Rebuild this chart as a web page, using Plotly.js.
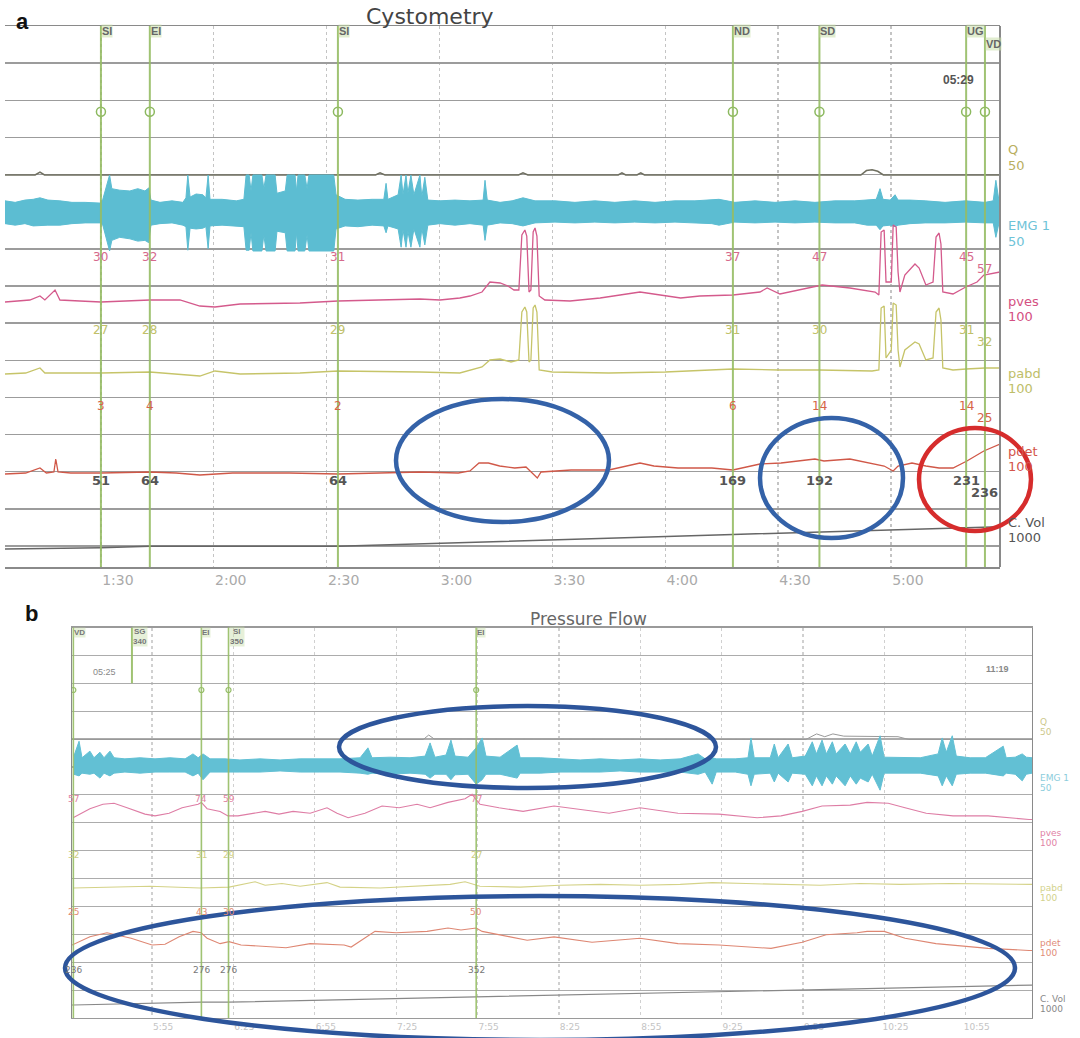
<!DOCTYPE html>
<html><head><meta charset="utf-8">
<script src="https://cdn.plot.ly/plotly-3.0.1.min.js"></script>
<style>html,body{margin:0;padding:0;background:#fff}#chart{width:1080px;height:1038px}</style>
</head><body><div id="chart"></div>
<script>
// ================= DATA =================
// ---- Panel a: Cystometry (time in seconds) ----
const topTickVals = [90,120,150,180,210,240,270,300];
const topTickText = ['1:30','2:00','2:30','3:00','3:30','4:00','4:30','5:00'];

const topEvents   = ['SI','EI','SI','ND','SD','UG','VD'];
const topEventT   = [90,103,153,258,281,320,325];
const topEvPves   = [30,32,31,37,47,45,57];
const topEvPabd   = [27,28,29,31,30,31,32];
const topEvPdet   = [3,4,2,6,14,14,25];
const topEvCVol   = [51,64,64,169,192,231,236];

const emgTopT = [64.5,67.2,69.8,72.0,73.8,75.9,79.1,82.3,85.8,89.8,
  90.5,91.3,92.3,92.9,95.0,97.7,99.8,101.7,102.7,103.3,
  105.7,108.9,111.8,112.6,113.1,113.7,115.3,117.1,117.9,118.5,
  119.0,122.2,126.0,128.0,128.6,129.4,129.9,130.4,132.8,133.3,
  133.9,136.3,136.8,139.0,139.5,141.6,142.0,142.4,144.2,144.8,
  145.3,151.9,152.5,154.9,158.3,162.1,165.2,165.8,166.3,169.0,
  169.8,170.3,171.1,171.6,172.4,173.2,174.8,175.3,176.1,176.9,
  180.1,184.1,188.1,191.6,192.1,192.7,196.1,199.3,202.2,205.4,
  210.7,216.0,221.3,226.6,231.9,237.3,242.6,247.9,252.4,254.3,
  258.5,263.9,269.2,274.5,279.8,285.1,290.4,293.7,296.1,297.1,
  297.9,299.8,301.1,301.9,305.1,309.1,314.4,319.8,325.0,327.2,
  327.9,328.7,329.0];
const emgTopUp = [16,14,17,18,20,17,16,14,14,13,
  18,32,50,32,30,29,32,29,33,17,
  14,16,14,20,50,21,25,24,20,50,
  18,18,16,18,50,50,29,50,50,32,
  50,50,26,29,50,50,29,50,50,32,
  50,50,24,18,17,18,18,39,18,24,
  50,24,50,26,50,24,50,21,47,17,
  16,17,16,17,43,17,14,16,20,16,
  16,14,16,14,16,14,16,16,18,18,
  14,16,14,16,14,16,16,17,18,32,
  18,17,24,17,17,16,14,16,14,16,
  43,17,16];
const emgTopDown = [-14,-16,-14,-17,-17,-16,-16,-14,-13,-13,
  -16,-33,-50,-36,-32,-34,-37,-36,-39,-16,
  -14,-13,-16,-18,-49,-20,-21,-20,-18,-47,
  -17,-16,-17,-18,-49,-49,-26,-50,-50,-29,
  -50,-50,-24,-26,-50,-50,-26,-50,-50,-29,
  -50,-50,-21,-17,-18,-16,-17,-26,-17,-21,
  -45,-22,-45,-24,-45,-21,-45,-20,-42,-16,
  -14,-16,-14,-16,-36,-16,-13,-14,-17,-13,
  -12,-13,-12,-13,-12,-13,-12,-13,-14,-16,
  -12,-13,-12,-13,-12,-13,-13,-16,-16,-22,
  -17,-16,-18,-16,-14,-13,-13,-12,-13,-13,
  -32,-14,-13];

const pvesTopT = [64.5,71.1,73.8,75.1,77.8,79.1,84.4,90,103,111,
  116.3,120.3,127,142.9,153,164.2,174.8,180.1,185.4,188.1,
  191.3,193.4,196.1,198.2,199.8,201.1,201.9,202.7,203.2,203.8,
  204.3,204.9,205.4,205.9,206.5,208,214.7,222.7,233.3,244.1,
  249.2,258,265.2,267.1,270.5,281.7,289.1,295.8,296.8,297.4,
  298.2,298.7,300.1,300.6,301.4,301.9,302.4,303.7,306.4,307.5,
  309.3,311.2,312.0,312.8,313.3,313.8,316.5,319.9,322.9,324.7,
  329];
const pvesTopV = [30,32,36,32,42,32,31,30,32,32,
  26,25,28,29,31,32,33,32,34,36,
  40,50,49,46,42,42,97,102,96,40,
  42,100,104,96,36,32,31,34,40,34,
  36,37,40,44,38,47,44,40,37,100,
  102,50,50,107,105,60,40,57,68,64,
  47,50,95,99,88,40,38,45,50,57,
  60];

const pabdTopT = [64.5,70,73.8,75.1,84.4,90,103,116.3,120.3,127,
  142.9,153,174.8,185.4,191.3,193.4,196.1,199,201.1,201.9,
  202.7,203.2,203.8,204.3,204.9,205.4,205.9,206.5,210,225,
  240,258,270,281,295,296.8,297.4,298.2,298.7,300.1,
  300.6,301.4,301.9,302.4,303.7,306.4,307.5,309.3,311.2,312.0,
  312.8,313.3,313.8,316.5,320,325,329];
const pabdTopV = [26,27,32,27,27,27,28,24,29,26,
  27,29,28,27,33,40,41,38,40,88,
  93,88,38,40,92,95,88,30,28,27,
  28,31,30,30,29,30,92,94,42,50,
  97,95,50,33,50,58,56,40,42,88,
  92,80,32,30,31,32,32];

const pdetTopT = [64.5,70,73.8,75.5,77.5,78,78.6,82,90,103,
  110,116.3,125,140,153,165,175,185,188.1,190.5,
  193,196,200,203,205.4,206,207,215,225,233.3,
  237,243.4,252.4,258,265.2,270.8,279.8,282.2,289.1,294.4,
  298.2,300.6,301.9,305.6,309.3,312.8,316.5,320.2,324.7,329];
const pdetTopV = [2,3,8,3,4,17,4,3,3,4,
  3,1,3,3,2,3,4,3,5,13,
  13,10,8,9,1,-2,4,6,6,13,
  10,8,8,6,12,13,17,15,17,13,
  10,5,10,13,10,8,8,15,25,32];

const qTopT = [64.5,72.5,73.8,75,163,164.2,165.5,201,202.2,203.5,227.5,228.5,229.5,232.5,233.5,234.5,292,293.5,295,296.5,298,329];
const qTopV = [0,0,4,0,0,3,0,0,3,0,0,3,0,0,3,0,0,6,7,5,0,0];

const cvolTopT = [64.5,90,103,153,258,281,320,325,329];
const cvolTopV = [40,51,64,64,169,192,231,236,238];

// ---- Panel b: Pressure Flow ----
const botTickVals = [355,385,415,445,475,505,535,565,595,625,655];
const botTickText = ['5:55','6:25','6:55','7:25','7:55','8:25','8:55','9:25','9:55','10:25','10:55'];

const botEvents   = ['VD','SG<br>340','EI','SI<br>350','EI'];
const botEventT   = [326,347.6,373.2,383.2,474.5];
const botEvPves   = ['57','','74','59','77'];
const botEvPabd   = ['32','','31','29','27'];
const botEvPdet   = ['25','','43','30','50'];
const botEvCVol   = ['236','','276','276','352'];

const emgBotT = [326.2,328.1,329.2,332.1,333.6,335.8,337.3,339.5,341.0,345.0,
  350.6,356.1,361.6,367.2,370.1,372.0,373.8,376.4,381.9,387.4,
  394.8,402.2,409.6,416.9,424.3,431.7,434.6,436.1,442.7,450.1,
  455.7,457.5,459.3,463.4,465.2,466.7,471.5,474.5,476.7,478.1,
  483.3,489.6,490.7,498.1,505.4,512.8,520.2,527.5,534.9,542.3,
  549.7,556.3,558.9,561.5,563.0,570.0,574.7,575.8,577.0,582.9,
  584.4,585.8,589.5,591.0,595.8,598.4,599.9,602.0,603.6,605.8,
  607.2,610.5,612.4,614.6,616.1,619.0,620.5,623.4,624.9,630.8,
  638.2,644.8,646.3,647.8,650.0,651.5,656.6,662.2,668.8,669.9,
  673.2,675.8,677.3,679.4];
const emgBotUp = [18,45,15,27,15,25,15,27,15,13,
  15,13,15,13,22,15,22,13,13,11,
  13,11,13,13,13,15,33,15,16,15,
  18,42,16,20,47,18,16,33,51,18,
  16,38,15,15,13,11,13,11,13,11,
  13,22,13,15,13,13,15,51,15,15,
  40,15,40,15,18,44,22,47,22,44,
  22,40,22,44,25,40,18,55,16,15,
  15,22,51,25,55,18,15,15,36,15,
  16,22,16,15];
const emgBotDown = [-15,-18,-13,-15,-13,-22,-13,-18,-13,-11,
  -13,-11,-11,-11,-18,-13,-25,-11,-11,-11,
  -11,-9,-11,-11,-11,-13,-15,-13,-15,-13,
  -15,-22,-15,-15,-25,-16,-15,-33,-25,-15,
  -15,-22,-13,-13,-11,-11,-11,-9,-11,-11,
  -11,-15,-11,-33,-11,-11,-15,-36,-15,-13,
  -29,-13,-29,-13,-15,-36,-18,-36,-18,-33,
  -18,-36,-18,-33,-22,-29,-15,-44,-13,-13,
  -13,-18,-36,-18,-36,-15,-13,-13,-18,-13,
  -15,-27,-15,-13];

const pvesBotT = [325.9,332.1,336.9,341.0,345.8,352.4,356.1,361.3,366.1,372.0,
  373.2,375.3,380.1,383.0,386.7,391.5,396.7,401.8,407.0,413.3,
  419.5,423.2,427.3,433.5,439.8,446.1,452.7,457.5,464.1,470.4,
  473.0,474.5,475.9,482.9,491.8,503.2,510.6,523.5,534.9,548.9,
  564.0,578.1,586.9,594.7,602.0,612.4,618.6,626.4,632.6,640.4,
  650.3,663.2,678.3,679.4];
const pvesBotV = [57,67,72,73,68,61,59,62,68,72,
  74,67,64,59,59,61,64,61,64,62,
  68,62,57,62,70,68,72,68,74,78,
  83,77,72,68,64,70,67,62,68,62,
  61,57,59,64,70,71,74,73,68,62,
  59,59,55,55];

const pabdBotT = [325.9,343.2,354.3,372.7,383.4,393.0,396.7,402.9,409.6,419.5,
  424.3,439.1,453.8,464.9,470.4,475.9,490.7,505.4,520.2,534.9,
  549.7,561.5,574.0,586.5,601.3,616.0,630.8,649.2,667.6,679.4];
const pabdBotV = [30,31,32,30,31,37,33,35,32,36,
  31,30,32,34,37,32,31,33,34,33,
  34,36,35,34,33,35,34,35,34,34];

const pdetBotT = [325.5,332.1,338.4,347.3,355.0,359.8,365.0,370.1,373.1,375.3,
  380.1,383.4,387.8,400.3,404.4,413.3,425.8,428.4,437.2,445.0,
  456.4,464.1,468.9,474.5,476.7,487.0,493.3,503.2,517.2,534.9,
  548.9,564.0,583.2,594.7,603.5,614.9,618.6,624.9,632.6,644.0,
  663.2,678.3,679.4];
const pdetBotV = [25,37,43,35,25,26,37,45,43,35,
  27,30,25,22,21,27,25,22,45,43,
  45,50,47,50,45,37,32,37,29,35,
  27,25,20,29,40,43,45,45,35,27,
  20,17,17];

const qBotT = [325.5,455,457,459,596,600,603,606,610,620,630,634,679.4];
const qBotV = [0,0,8,1,0,10,5,10,6,6,5,0,0];

const cvolBotT = [325.5,326,373.2,383.2,474.5,679.4];
const cvolBotV = [236,236,276,276,352,520];

// channel labels
const chanNames  = ['Q','EMG 1','pves','pabd','pdet','C. Vol'];
const chanScales = ['50','50','100','100','100','1000'];

// ================= LAYOUT HELPERS =================
const W = 1080, H = 1038;
const F = 'Liberation Sans, Arial, sans-serif';
const FD = 'DejaVu Sans, sans-serif';
const px = x => x / W, py = y => 1 - y / H;
function rng(zero, s, T, B) { return [(zero - B) / s, (zero - T) / s]; }

const TT = 26, TB = 567, BT = 627.5, BB = 1018;
const colTop = {q:'#6f6f60', emg:'#5cbdd2', pves:'rgb(212,90,140)', pabd:'rgb(198,196,105)', pdet:'rgb(208,88,72)', cvol:'#666'};
const colBot = {q:'#999', emg:'#62c0d4', pves:'rgb(222,125,165)', pabd:'rgb(212,210,135)', pdet:'rgb(222,135,115)', cvol:'#888'};
const evGreen = 'rgba(150,188,100,0.9)';

function band(t, up, dn) {
  return { x: t.concat(t.slice().reverse()), y: up.concat(dn.slice().reverse()) };
}
const bt = band(emgTopT, emgTopUp, emgTopDown);
const bb = band(emgBotT, emgBotUp, emgBotDown);

const traces = [
  {x: bt.x, y: bt.y, xaxis:'x', yaxis:'y3', mode:'lines', fill:'toself', fillcolor:colTop.emg, line:{color:colTop.emg, width:1}},
  {x: qTopT, y: qTopV, xaxis:'x', yaxis:'y2', mode:'lines', line:{color:colTop.q, width:1.5}},
  {x: pvesTopT, y: pvesTopV, xaxis:'x', yaxis:'y4', mode:'lines', line:{color:colTop.pves, width:1.3}},
  {x: pabdTopT, y: pabdTopV, xaxis:'x', yaxis:'y5', mode:'lines', line:{color:colTop.pabd, width:1.3}},
  {x: pdetTopT, y: pdetTopV, xaxis:'x', yaxis:'y6', mode:'lines', line:{color:colTop.pdet, width:1.3}},
  {x: cvolTopT, y: cvolTopV, xaxis:'x', yaxis:'y7', mode:'lines', line:{color:colTop.cvol, width:1.5}},
  {x: topEventT, y: topEventT.map(() => 11.69), xaxis:'x', yaxis:'y', mode:'markers',
   marker:{symbol:'circle-open', size:9, color:'rgb(140,185,95)', line:{width:1.5}}},

  {x: bb.x, y: bb.y, xaxis:'x2', yaxis:'y10', mode:'lines', fill:'toself', fillcolor:colBot.emg, line:{color:colBot.emg, width:1}},
  {x: qBotT, y: qBotV, xaxis:'x2', yaxis:'y9', mode:'lines', line:{color:colBot.q, width:1}},
  {x: pvesBotT, y: pvesBotV, xaxis:'x2', yaxis:'y11', mode:'lines', line:{color:colBot.pves, width:1.1}},
  {x: pabdBotT, y: pabdBotV, xaxis:'x2', yaxis:'y12', mode:'lines', line:{color:colBot.pabd, width:1.1}},
  {x: pdetBotT, y: pdetBotV, xaxis:'x2', yaxis:'y13', mode:'lines', line:{color:colBot.pdet, width:1.1}},
  {x: cvolBotT, y: cvolBotV, xaxis:'x2', yaxis:'y14', mode:'lines', line:{color:colBot.cvol, width:1.2}},
  {x: botEventT.filter((t,i)=>i!==1), y: [11.76,11.76,11.76,11.76], xaxis:'x2', yaxis:'y8', mode:'markers',
   marker:{symbol:'circle-open', size:5, color:'rgb(150,190,105)', line:{width:1.2}}}
];

function chan(base, xa, zero, s, T, B) {
  return {overlaying: base, anchor: xa, range: rng(zero, s, T, B), autorange:false, visible:false, fixedrange:true};
}

const layout = {
  width: W, height: H, autosize:false,
  margin: {l:0, r:0, t:0, b:0, pad:0},
  paper_bgcolor:'#fff', plot_bgcolor:'#fff',
  showlegend:false,
  font:{family:F, color:'#555'},
  xaxis: {domain:[px(5), px(1000)], range:[64.5, 329], autorange:false, anchor:'y',
    tickmode:'array', tickvals: topTickVals, ticktext: topTickText,
    showgrid:true, gridcolor:'#c4c4c4', griddash:'dot', gridwidth:1.3, zeroline:false,
    ticks:'', ticklabelshift:17, tickfont:{family:FD, size:14, color:'#aaa'},
    showline:true, mirror:true, linecolor:'#8a8a8a', linewidth:1.5},
  yaxis: {domain:[py(TB), py(TT)], range:[-0.565, 14], autorange:false, anchor:'x',
    tickmode:'linear', tick0:0, dtick:1, showgrid:true, gridcolor:'#9c9c9c', gridwidth:1.5,
    zeroline:false, showticklabels:false, ticks:'', showline:false},
  yaxis2: chan('y','x',175,0.742,TT,TB),
  yaxis3: chan('y','x',213,0.76,TT,TB),
  yaxis4: chan('y','x',332,1.0,TT,TB),
  yaxis5: chan('y','x',400,1.0,TT,TB),
  yaxis6: chan('y','x',476,1.0,TT,TB),
  yaxis7: chan('y','x',553.6,0.113,TT,TB),

  xaxis2: {domain:[px(72), px(1032)], range:[325.5, 679.4], autorange:false, anchor:'y8',
    tickmode:'array', tickvals: botTickVals, ticktext: botTickText,
    showgrid:true, gridcolor:'#d0d0d0', griddash:'dot', gridwidth:1.2, zeroline:false,
    ticks:'', ticklabelshift:11, tickfont:{family:FD, size:9, color:'#c4c4c4'},
    showline:true, mirror:true, linecolor:'#9a9a9a', linewidth:1.2},
  yaxis8: {domain:[py(BB), py(BT)], range:[0, 14], autorange:false, anchor:'x2',
    tickmode:'linear', tick0:0, dtick:1, showgrid:true, gridcolor:'#acacac', gridwidth:1.2,
    zeroline:false, showticklabels:false, ticks:'', showline:true, mirror:true, linecolor:'#8a8a8a', linewidth:1.2},
  yaxis9:  chan('y8','x2',739.5,0.558,BT,BB),
  yaxis10: chan('y8','x2',766,0.55,BT,BB),
  yaxis11: chan('y8','x2',869,0.9,BT,BB),
  yaxis12: chan('y8','x2',915,0.9,BT,BB),
  yaxis13: chan('y8','x2',962,0.68,BT,BB),
  yaxis14: chan('y8','x2',1021.5,0.07,BT,BB),
  shapes: [], annotations: []
};

// right border of panel a
layout.shapes.push({type:'line', xref:'x domain', yref:'y domain', x0:1, x1:1, y0:0, y1:1, line:{color:'#8a8a8a', width:2}});

// event lines
topEventT.forEach(t => layout.shapes.push({type:'line', xref:'x', yref:'y domain', x0:t, x1:t, y0:0, y1:1, line:{color:evGreen, width:2}}));
botEventT.forEach((t,i) => {
  if (i === 1) layout.shapes.push({type:'line', xref:'x2', yref:'y8', x0:t, x1:t, y0:12.0, y1:14, line:{color:evGreen, width:2}});
  else layout.shapes.push({type:'line', xref:'x2', yref:'y8 domain', x0:t, x1:t, y0:0, y1:1, line:{color:evGreen, width:1.6}});
});

// highlight ellipses
function ell(x0,x1,y0,y1,color,w){ return {type:'circle', xref:'paper', yref:'paper', x0:px(x0), x1:px(x1), y0:py(y1), y1:py(y0), line:{color:color, width:w}}; }
const blue = 'rgb(52,98,168)', red = 'rgb(214,44,44)';
layout.shapes.push(ell(396,609,399,522,blue,4.5));
layout.shapes.push(ell(760,903,418,538,blue,4.5));
layout.shapes.push(ell(919,1031,428,531,red,4.5));
layout.shapes.push(ell(339,716,706,788,'rgb(45,85,155)',4.5));
layout.shapes.push(ell(65,1015,896,1040,'rgb(45,85,155)',4.5));

const A = layout.annotations;
function ann(text, x, y, o) { return Object.assign({text:text, x:x, y:y, xref:'paper', yref:'paper', showarrow:false, xanchor:'center', yanchor:'middle', font:{family:F, size:12, color:'#555'}}, o||{}); }

// panel letters and titles
A.push(ann('<b>a</b>', px(22), py(22), {font:{family:F, size:22, color:'#111'}}));
A.push(ann('<b>b</b>', px(31), py(614), {font:{family:F, size:22, color:'#111'}}));
A.push(ann('Cystometry', px(430), py(16), {font:{family:FD, size:22, color:'#444'}}));
A.push(ann('Pressure Flow', px(588), py(619), {font:{family:FD, size:17, color:'#666'}}));
A.push(ann('<b>05:29</b>', px(958), py(80), {font:{family:F, size:12, color:'#555'}}));
A.push(ann('05:25', px(104), py(672), {font:{family:F, size:9, color:'#888'}}));
A.push(ann('<b>11:19</b>', px(997), py(669), {font:{family:F, size:9, color:'#888'}}));

// event labels, panel a
topEvents.forEach((lab,i) => {
  A.push({text:'<b>'+lab+'</b>', x:topEventT[i], xref:'x', y:py(i===6?44:31), yref:'paper', showarrow:false,
    xanchor:'left', yanchor:'middle', bgcolor:'rgba(200,222,170,0.55)', borderpad:0,
    font:{family:F, size:11, color:'#666'}});
});
// event labels, panel b
botEvents.forEach((lab,i) => {
  A.push({text:'<b>'+lab+'</b>', x:botEventT[i], xref:'x2', y:py(i%2===1?636:632), yref:'paper', showarrow:false,
    xanchor:'left', yanchor:'middle', bgcolor:'rgba(200,222,170,0.45)', borderpad:0,
    font:{family:F, size:8, color:'#777'}});
});

// event values, panel a
const topRows = [[topEvPves,257,'rgb(214,105,140)'],[topEvPabd,330,'rgb(192,192,105)'],[topEvPdet,406,'rgb(214,100,70)'],[topEvCVol,480,'#555']];
topRows.forEach(([vals,yy,c],r) => {
  vals.forEach((v,i) => {
    A.push({text: r===3 ? '<b>'+v+'</b>' : String(v), x:topEventT[i], xref:'x', y:py(yy + (i===6?12:0)), yref:'paper',
      showarrow:false, xanchor:'center', yanchor:'middle', font:{family:FD, size:r===3?13:12, color:c}});
  });
});
// event values, panel b
const botRows = [[botEvPves,799,'rgb(224,130,160)'],[botEvPabd,855,'rgb(205,205,130)'],[botEvPdet,912,'rgb(225,140,115)'],[botEvCVol,970,'#777']];
botRows.forEach(([vals,yy,c]) => {
  vals.forEach((v,i) => {
    if (v === '') return;
    A.push({text:v, x:botEventT[i], xref:'x2', y:py(yy), yref:'paper', showarrow:false,
      xanchor:'center', yanchor:'middle', font:{family:FD, size:9, color:c}});
  });
});

// channel labels on the right
const topLabY = [150,226,301,374,451,522];
const topLabC = ['rgb(185,175,95)','rgb(110,195,215)','rgb(212,80,130)','rgb(190,190,105)','rgb(212,85,75)','#555'];
chanNames.forEach((n,i) => {
  A.push(ann(n, px(1006), py(topLabY[i]), {xanchor:'left', font:{family:FD, size:13, color:topLabC[i]}}));
  A.push(ann(chanScales[i], px(1006), py(topLabY[i]+15), {xanchor:'left', font:{family:FD, size:13, color:topLabC[i]}}));
});
const botLabY = [722,778,833,888,943,999];
const botLabC = ['rgb(205,200,140)','rgb(140,205,220)','rgb(225,130,165)','rgb(210,210,140)','rgb(225,140,120)','#888'];
chanNames.forEach((n,i) => {
  A.push(ann(n, px(1038), py(botLabY[i]), {xanchor:'left', font:{family:FD, size:9, color:botLabC[i]}}));
  A.push(ann(chanScales[i], px(1038), py(botLabY[i]+10), {xanchor:'left', font:{family:FD, size:9, color:botLabC[i]}}));
});

Plotly.newPlot('chart', traces, layout, {staticPlot:true, displayModeBar:false});
</script></body></html>
